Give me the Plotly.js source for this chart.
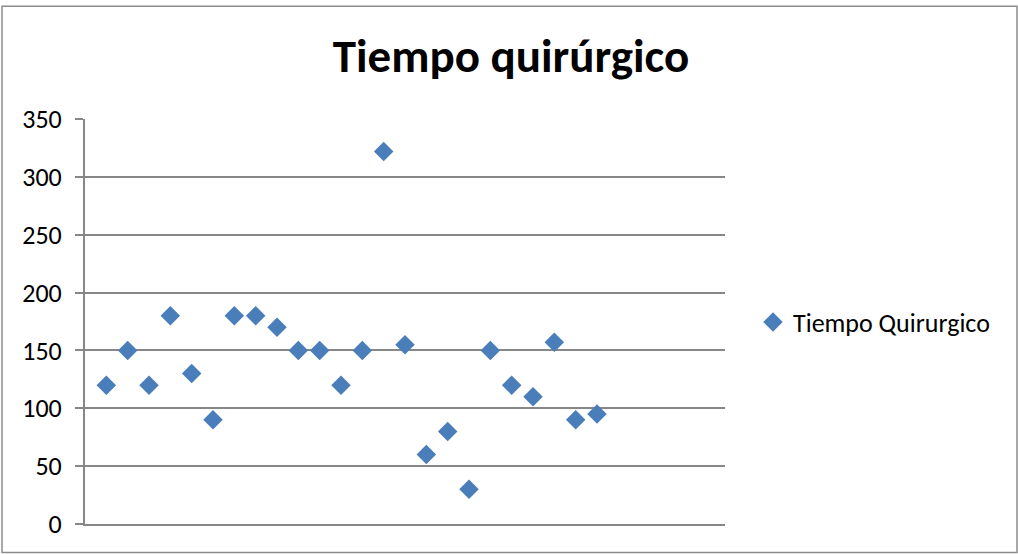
<!DOCTYPE html>
<html>
<head>
<meta charset="utf-8">
<script src="https://cdn.plot.ly/plotly-3.0.1.min.js"></script>
<style>
  html, body { margin: 0; padding: 0; background: #fff; }
  #chart { width: 1018px; height: 554px; }
</style>
</head>
<body>
<div id="chart"></div>
<script>
// Surgical time per case (minutes)
const caseNumbers = [1, 2, 3, 4, 5, 6, 7, 8, 9, 10, 11, 12, 13, 14, 15, 16, 17, 18, 19, 20, 21, 22, 23, 24];
const surgicalMinutes = [120, 150, 120, 180, 130, 90, 180, 180, 170, 150, 150, 120, 150, 322, 155, 60, 80, 30, 150, 120, 110, 157, 90, 95];
const seriesName = 'Tiempo Quirurgico';
const chartTitle = 'Tiempo quirúrgico';
const yTickValues = [0, 50, 100, 150, 200, 250, 300, 350];

const FONT = 'Carlito, Lato, "Open Sans", sans-serif';
const GRID = '#878787';

const trace = {
  type: 'scatter',
  mode: 'markers',
  x: caseNumbers,
  y: surgicalMinutes,
  name: seriesName,
  showlegend: true,
  marker: { symbol: 'diamond', size: 15, color: '#4A7EBB', line: { width: 0 } },
  cliponaxis: false
};

const W = 1018, H = 554;
const L = 85, R = 725, T = 119, B = 524.5;

const layout = {
  width: W,
  height: H,
  margin: { l: L, r: W - R, t: T, b: H - B, pad: 0 },
  paper_bgcolor: '#ffffff',
  plot_bgcolor: '#ffffff',
  font: { family: FONT, color: '#000000', size: 26 },
  title: {
    text: '<b>' + chartTitle + '</b>',
    font: { family: FONT, size: 47, color: '#000000' },
    x: 511 / W, xref: 'container', xanchor: 'center',
    y: 1 - 56 / H, yref: 'container', yanchor: 'middle'
  },
  xaxis: {
    range: [0, 30],
    showgrid: false,
    zeroline: false,
    showticklabels: false,
    ticks: '',
    showline: true,
    linecolor: GRID,
    linewidth: 2,
    fixedrange: true
  },
  yaxis: {
    range: [0, 350],
    tickvals: yTickValues,
    ticktext: yTickValues.map(String),
    showgrid: true,
    gridcolor: GRID,
    gridwidth: 2,
    zeroline: false,
    showline: true,
    linecolor: GRID,
    linewidth: 2,
    ticks: 'outside',
    ticklen: 8,
    tickwidth: 2,
    tickcolor: GRID,
    ticklabelstandoff: 8,
    tickfont: { family: FONT, size: 26, color: '#000000' },
    fixedrange: true
  },
  legend: {
    x: 753 / W, xanchor: 'left',
    y: 1 - 322 / H, yanchor: 'middle',
    xref: 'container', yref: 'container',
    font: { family: FONT, size: 26, color: '#000000' },
    bgcolor: 'rgba(0,0,0,0)',
    itemwidth: 30,
    tracegroupgap: 0
  },
  shapes: [{
    type: 'rect',
    xref: 'paper', yref: 'paper',
    x0: (2 - L) / (R - L), x1: (1017 - L) / (R - L),
    y0: (B - 553) / (B - T), y1: (B - 6) / (B - T),
    line: { color: '#8C8C8C', width: 1.5 },
    fillcolor: 'rgba(0,0,0,0)',
    layer: 'below'
  }]
};

Plotly.newPlot('chart', [trace], layout, { staticPlot: true, displayModeBar: false });
</script>
</body>
</html>
